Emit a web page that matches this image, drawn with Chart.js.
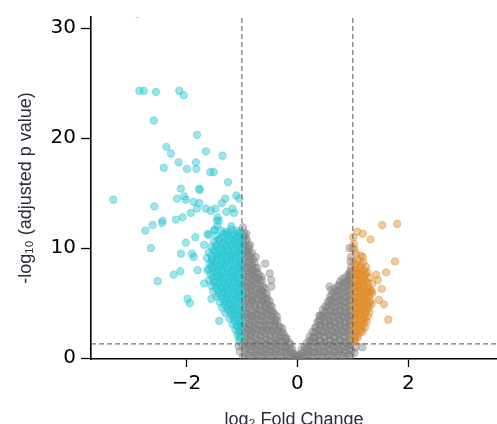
<!DOCTYPE html>
<html>
<head>
<meta charset="utf-8">
<script src="https://cdn.jsdelivr.net/npm/chart.js@4/dist/chart.umd.min.js"></script>
<style>
html,body{margin:0;padding:0;background:#fff;overflow:hidden;}
canvas{display:block;}
</style>
</head>
<body>
<canvas id="c" width="497" height="431"></canvas>
<script>
// ---- axis settings / tick labels ----
const xTickValues = [-2, 0, 2];
const yTickValues = [0, 10, 20, 30];
const xRange = [-3.72, 3.6];
const yRange = [-0.07, 31];
const foldThreshold = 1;          // |log2 FC| cut-off
const pThreshold = 1.301;          // -log10(0.05)

// ---- not significant genes (gray) [log2FC, -log10 padj] ----
const grayPoints = [
[-0.98,0.15],[-0.95,0.6],[-0.99,1.1],[-0.96,1.5],[-0.94,2.0],[-0.98,2.5],[-0.95,2.9],[-0.97,3.4],[-0.99,3.9],[-0.94,4.3],[-0.97,4.8],[-0.95,5.3],[-0.98,5.7],[-0.96,6.2],[-0.99,6.7],[-0.94,7.1],[-0.97,7.6],[-0.95,8.1],[-0.98,8.5],[-0.96,9.0],[-0.99,9.5],[-0.95,9.9],[-0.97,10.4],[-0.98,10.9],[-0.96,11.4],[-0.98,11.9],
[-0.89,0.3],[-0.86,0.8],[-0.9,1.2],[-0.87,1.7],[-0.85,2.2],[-0.89,2.6],[-0.88,3.1],[-0.86,3.6],[-0.9,4.0],[-0.87,4.5],[-0.85,5.0],[-0.89,5.4],[-0.88,5.9],[-0.86,6.4],[-0.9,6.8],[-0.87,7.3],[-0.85,7.8],[-0.89,8.2],[-0.88,8.7],[-0.86,9.2],[-0.9,9.7],[-0.88,10.2],[-0.91,10.8],
[-0.8,0.1],[-0.77,0.5],[-0.81,1.0],[-0.78,1.4],[-0.76,1.9],[-0.8,2.4],[-0.79,2.8],[-0.77,3.3],[-0.81,3.8],[-0.78,4.2],[-0.76,4.7],[-0.8,5.2],[-0.79,5.6],[-0.77,6.1],[-0.81,6.6],[-0.78,7.0],[-0.8,7.5],[-0.79,8.0],[-0.81,8.5],[-0.8,9.0],[-0.82,9.6],
[-0.71,0.3],[-0.68,0.7],[-0.72,1.2],[-0.69,1.6],[-0.67,2.1],[-0.71,2.6],[-0.7,3.0],[-0.68,3.5],[-0.72,4.0],[-0.69,4.4],[-0.67,4.9],[-0.71,5.4],[-0.7,5.8],[-0.68,6.3],[-0.72,6.8],[-0.71,7.3],[-0.73,7.8],[-0.72,8.2],
[-0.62,0.1],[-0.59,0.5],[-0.63,1.0],[-0.6,1.4],[-0.58,1.9],[-0.62,2.4],[-0.61,2.8],[-0.59,3.3],[-0.63,3.8],[-0.6,4.2],[-0.58,4.7],[-0.62,5.2],[-0.61,5.6],[-0.63,6.1],[-0.62,6.6],[-0.64,7.1],
[-0.53,0.3],[-0.5,0.7],[-0.54,1.2],[-0.51,1.6],[-0.49,2.1],[-0.53,2.6],[-0.52,3.0],[-0.5,3.5],[-0.54,4.0],[-0.51,4.4],[-0.53,4.9],[-0.54,5.4],[-0.55,5.9],
[-0.44,0.1],[-0.41,0.5],[-0.45,1.0],[-0.42,1.4],[-0.4,1.9],[-0.44,2.4],[-0.43,2.8],[-0.41,3.3],[-0.45,3.8],[-0.44,4.2],[-0.46,4.7],
[-0.35,0.3],[-0.32,0.7],[-0.36,1.2],[-0.33,1.6],[-0.31,2.0],[-0.35,2.5],[-0.34,2.9],[-0.36,3.4],[-0.37,3.8],
[-0.26,0.1],[-0.23,0.5],[-0.27,1.0],[-0.24,1.4],[-0.22,1.8],[-0.26,2.3],[-0.27,2.7],
[-0.17,0.2],[-0.14,0.6],[-0.18,1.0],[-0.15,1.4],[-0.19,1.8],
[-0.08,0.1],[-0.05,0.4],[-0.09,0.8],[-0.03,0.1],[0.0,0.05],[0.02,0.15],[-0.01,0.2],
[0.06,0.1],[0.09,0.45],[0.08,0.8],
[0.15,0.1],[0.18,0.5],[0.16,0.9],[0.17,1.4],
[0.24,0.2],[0.27,0.6],[0.23,1.1],[0.26,1.5],[0.28,1.9],[0.27,2.4],
[0.35,0.1],[0.32,0.5],[0.36,1.0],[0.33,1.4],[0.31,1.9],[0.35,2.3],[0.34,2.8],[0.36,3.3],
[0.44,0.3],[0.41,0.7],[0.45,1.2],[0.42,1.6],[0.4,2.1],[0.44,2.5],[0.43,3.0],[0.41,3.4],[0.45,3.9],[0.46,4.4],
[0.53,0.1],[0.5,0.5],[0.54,1.0],[0.51,1.4],[0.49,1.9],[0.53,2.3],[0.52,2.8],[0.5,3.2],[0.54,3.7],[0.51,4.1],[0.53,4.6],[0.55,5.1],
[0.62,0.3],[0.59,0.7],[0.63,1.2],[0.6,1.6],[0.58,2.1],[0.62,2.5],[0.61,3.0],[0.59,3.4],[0.63,3.9],[0.6,4.3],[0.62,4.8],[0.61,5.3],[0.63,5.8],
[0.71,0.1],[0.68,0.5],[0.72,1.0],[0.69,1.4],[0.67,1.9],[0.71,2.3],[0.7,2.8],[0.68,3.2],[0.72,3.7],[0.69,4.1],[0.71,4.6],[0.7,5.1],[0.72,5.6],[0.71,6.1],[0.73,6.6],
[0.8,0.3],[0.77,0.7],[0.81,1.2],[0.78,1.6],[0.76,2.1],[0.8,2.5],[0.79,3.0],[0.77,3.4],[0.81,3.9],[0.78,4.3],[0.8,4.8],[0.79,5.3],[0.81,5.8],[0.8,6.3],[0.82,6.8],[0.81,7.2],
[0.89,0.1],[0.86,0.5],[0.9,1.0],[0.87,1.4],[0.85,1.9],[0.89,2.3],[0.88,2.8],[0.86,3.2],[0.9,3.7],[0.87,4.1],[0.89,4.6],[0.88,5.1],[0.9,5.6],[0.89,6.1],[0.91,6.6],[0.9,7.1],[0.92,7.6],
[0.96,0.3],[0.98,0.7],[0.95,1.2],[0.97,1.6],[0.98,2.1],[0.96,2.5],[0.97,3.0],[0.95,3.4],[0.98,3.9],[0.96,4.3],[0.97,4.8],[0.95,5.3],[0.98,5.8],[0.96,6.3],[0.97,6.8],[0.95,7.3],[0.96,7.8],[0.97,8.3],
[0.94,10.0],[0.99,10.0],[0.97,9.2],[0.96,8.8],[-0.58,8.6],[-0.5,7.7],[-0.47,7.1],[-0.47,6.5],[-0.65,7.4],[0.61,6.2],[0.58,6.5],[0.4,3.9],[-0.92,11.3],[-0.85,10.3],[-0.75,9.2],[1.03,0.5],[-1.04,0.6],[1.05,1.0],[-1.06,1.1],[1.17,1.0],
[-0.93,0.4],[-0.92,0.9],[-0.94,1.35],[-0.91,1.8],[-0.93,2.3],[-0.92,2.75],[-0.94,3.2],[-0.91,3.7],[-0.93,4.1],[-0.92,4.6],[-0.94,5.05],[-0.91,5.5],[-0.93,6.0],[-0.92,6.45],[-0.94,6.9],[-0.91,7.4],[-0.93,7.85],[-0.92,8.3],[-0.94,8.8],[-0.91,9.25],[-0.93,9.7],[-0.94,10.2],[-0.93,10.65],[-0.95,11.1],
[-0.84,0.2],[-0.83,0.65],[-0.85,1.1],[-0.82,1.55],[-0.84,2.0],[-0.83,2.5],[-0.85,2.95],[-0.82,3.4],[-0.84,3.85],[-0.83,4.3],[-0.85,4.8],[-0.82,5.25],[-0.84,5.7],[-0.83,6.15],[-0.85,6.6],[-0.82,7.1],[-0.84,7.55],[-0.83,8.0],[-0.85,8.45],[-0.84,8.95],[-0.86,9.4],[-0.87,9.9],
[-0.75,0.35],[-0.74,0.8],[-0.76,1.25],[-0.73,1.7],[-0.75,2.2],[-0.74,2.65],[-0.76,3.1],[-0.73,3.55],[-0.75,4.0],[-0.74,4.5],[-0.76,4.95],[-0.73,5.4],[-0.75,5.85],[-0.74,6.3],[-0.76,6.8],[-0.75,7.25],[-0.77,7.7],[-0.76,8.2],[-0.78,8.7],
[-0.66,0.2],[-0.65,0.65],[-0.67,1.1],[-0.64,1.55],[-0.66,2.0],[-0.65,2.5],[-0.67,2.95],[-0.64,3.4],[-0.66,3.85],[-0.65,4.3],[-0.67,4.8],[-0.64,5.25],[-0.66,5.7],[-0.65,6.15],[-0.67,6.6],[-0.68,7.1],[-0.69,7.6],
[-0.57,0.35],[-0.56,0.8],[-0.58,1.25],[-0.55,1.7],[-0.57,2.2],[-0.56,2.65],[-0.58,3.1],[-0.55,3.55],[-0.57,4.0],[-0.56,4.5],[-0.58,4.95],[-0.57,5.4],[-0.59,5.9],[-0.6,6.4],
[-0.48,0.2],[-0.47,0.65],[-0.49,1.1],[-0.46,1.55],[-0.48,2.0],[-0.47,2.5],[-0.49,2.95],[-0.46,3.4],[-0.48,3.85],[-0.47,4.3],[-0.49,4.8],[-0.5,5.2],
[-0.39,0.35],[-0.38,0.8],[-0.4,1.25],[-0.37,1.7],[-0.39,2.15],[-0.38,2.6],[-0.4,3.05],[-0.39,3.5],[-0.41,4.0],
[-0.3,0.2],[-0.29,0.6],[-0.31,1.05],[-0.28,1.5],[-0.3,1.95],[-0.29,2.4],[-0.31,2.85],
[-0.21,0.35],[-0.2,0.75],[-0.22,1.2],[-0.21,1.65],[-0.23,2.05],
[-0.12,0.15],[-0.11,0.5],[-0.13,0.9],[-0.12,1.25],
[-0.04,0.25],[0.03,0.3],
[0.11,0.2],[0.12,0.6],[0.13,1.0],
[0.2,0.35],[0.21,0.75],[0.2,1.15],[0.22,1.6],[0.22,1.95],
[0.29,0.15],[0.3,0.55],[0.29,1.0],[0.31,1.45],[0.3,1.9],[0.31,2.35],[0.32,2.8],
[0.38,0.35],[0.39,0.75],[0.38,1.2],[0.4,1.65],[0.39,2.1],[0.38,2.55],[0.4,3.0],[0.39,3.45],[0.41,3.85],
[0.47,0.2],[0.48,0.6],[0.47,1.05],[0.49,1.5],[0.48,1.95],[0.47,2.4],[0.49,2.85],[0.48,3.3],[0.47,3.75],[0.49,4.2],[0.5,4.7],
[0.56,0.35],[0.57,0.75],[0.56,1.2],[0.58,1.65],[0.57,2.1],[0.56,2.55],[0.58,3.0],[0.57,3.45],[0.56,3.9],[0.58,4.35],[0.57,4.8],[0.58,5.25],[0.59,5.6],
[0.65,0.2],[0.66,0.6],[0.65,1.05],[0.67,1.5],[0.66,1.95],[0.65,2.4],[0.67,2.85],[0.66,3.3],[0.65,3.75],[0.67,4.2],[0.66,4.65],[0.65,5.1],[0.67,5.55],[0.66,6.0],[0.68,6.3],
[0.74,0.35],[0.75,0.75],[0.74,1.2],[0.76,1.65],[0.75,2.1],[0.74,2.55],[0.76,3.0],[0.75,3.45],[0.74,3.9],[0.76,4.35],[0.75,4.8],[0.74,5.25],[0.76,5.7],[0.75,6.15],[0.76,6.6],[0.77,6.95],
[0.83,0.2],[0.84,0.6],[0.83,1.05],[0.85,1.5],[0.84,1.95],[0.83,2.4],[0.85,2.85],[0.84,3.3],[0.83,3.75],[0.85,4.2],[0.84,4.65],[0.83,5.1],[0.85,5.55],[0.84,6.0],[0.85,6.45],[0.86,6.9],[0.86,7.35],
[0.92,0.35],[0.93,0.75],[0.92,1.2],[0.94,1.65],[0.93,2.1],[0.92,2.55],[0.94,3.0],[0.93,3.45],[0.92,3.9],[0.94,4.35],[0.93,4.8],[0.92,5.25],[0.94,5.7],[0.93,6.15],[0.94,6.6],[0.93,7.05],[0.94,7.5],[0.95,7.9]
];

// ---- down-regulated genes (cyan) ----
const downPoints = [
[-2.88,31.3],[-2.85,24.3],[-2.77,24.3],[-2.55,24.2],[-2.13,24.3],[-2.05,23.9],[-2.59,21.6],[-1.81,20.3],[-2.36,19.2],[-2.28,18.6],[-1.65,18.8],[-1.35,18.4],
[-2.14,17.8],[-1.83,17.8],[-2.41,17.3],[-1.99,17.2],[-1.82,17.2],[-1.57,16.9],[-1.51,16.9],[-1.25,16.0],[-2.10,15.4],[-1.77,15.4],[-1.76,15.3],
[-3.32,14.4],[-2.58,13.8],[-2.17,14.5],[-2.04,14.7],[-2.01,14.4],[-1.87,14.2],[-1.77,14.1],[-1.30,14.5],[-1.36,14.1],[-1.10,14.8],[-1.05,14.5],
[-1.81,13.6],[-1.65,13.6],[-1.48,13.6],[-1.56,13.4],[-1.28,13.3],[-1.17,13.6],[-1.14,13.2],[-2.43,12.5],[-2.19,12.6],[-2.07,12.8],[-1.92,13.2],[-1.44,12.8],
[-2.74,11.6],[-2.61,12.1],[-2.44,12.3],[-2.64,10.0],[-2.52,7.0],[-2.23,7.6],[-2.11,7.9],[-2.10,9.5],[-2.01,10.5],[-1.90,9.5],[-1.87,9.2],[-1.84,11.0],[-1.80,8.0],
[-1.98,5.4],[-1.94,5.0],[-1.60,11.2],[-1.49,11.7],[-1.45,12.5],[-1.68,10.3],[-1.41,3.4],[-1.68,6.8],[-1.62,8.0],[-1.55,5.4],[-1.62,11.3],[-1.50,11.6],[-1.44,12.0],[-1.41,12.5],[-1.19,12.0],
[-1.38,11.6],[-1.28,11.5],[-1.19,11.7],[-1.1,11.6],[-1.03,11.5],
[-1.46,11.1],[-1.36,11.0],[-1.27,11.2],[-1.18,11.1],[-1.09,11.0],[-1.02,11.2],
[-1.5,10.6],[-1.41,10.7],[-1.32,10.5],[-1.24,10.6],[-1.15,10.7],[-1.07,10.5],[-1.01,10.6],
[-1.55,10.1],[-1.46,10.2],[-1.37,10.0],[-1.29,10.1],[-1.2,10.2],[-1.12,10.0],[-1.04,10.1],
[-1.6,9.6],[-1.5,9.7],[-1.42,9.5],[-1.33,9.6],[-1.25,9.7],[-1.17,9.5],[-1.09,9.6],[-1.02,9.7],
[-1.63,9.1],[-1.54,9.0],[-1.45,9.2],[-1.37,9.1],[-1.28,9.0],[-1.2,9.2],[-1.12,9.1],[-1.04,9.0],
[-1.58,8.6],[-1.49,8.7],[-1.4,8.5],[-1.32,8.6],[-1.23,8.7],[-1.15,8.5],[-1.07,8.6],[-1.01,8.7],
[-1.6,8.1],[-1.52,8.2],[-1.43,8.0],[-1.35,8.1],[-1.27,8.2],[-1.18,8.0],[-1.1,8.1],[-1.03,8.2],
[-1.56,7.6],[-1.47,7.7],[-1.38,7.5],[-1.3,7.6],[-1.21,7.7],[-1.13,7.5],[-1.05,7.6],
[-1.59,7.1],[-1.5,7.0],[-1.41,7.2],[-1.33,7.1],[-1.24,7.0],[-1.16,7.2],[-1.08,7.1],[-1.01,7.0],
[-1.55,6.6],[-1.45,6.7],[-1.36,6.5],[-1.28,6.6],[-1.19,6.7],[-1.11,6.5],[-1.03,6.6],
[-1.52,6.1],[-1.42,6.2],[-1.33,6.0],[-1.25,6.1],[-1.16,6.2],[-1.08,6.0],[-1.01,6.1],
[-1.46,5.6],[-1.38,5.7],[-1.29,5.5],[-1.21,5.6],[-1.12,5.7],[-1.04,5.5],
[-1.4,5.1],[-1.31,5.2],[-1.23,5.0],[-1.14,5.1],[-1.06,5.2],
[-1.36,4.6],[-1.27,4.7],[-1.18,4.5],[-1.1,4.6],[-1.02,4.7],
[-1.3,4.1],[-1.21,4.2],[-1.13,4.0],[-1.05,4.1],
[-1.22,3.6],[-1.14,3.7],[-1.06,3.5],
[-1.17,3.1],[-1.09,3.0],[-1.02,3.2],
[-1.12,2.6],[-1.04,2.5],
[-1.08,2.1],[-1.02,2.0],
[-1.05,1.6],
[-1.33,11.35],[-1.24,11.4],[-1.14,11.3],[-1.06,11.35],
[-1.41,10.85],[-1.31,10.9],[-1.22,10.8],[-1.13,10.85],[-1.05,10.9],
[-1.46,10.35],[-1.37,10.4],[-1.28,10.3],[-1.19,10.35],[-1.11,10.4],[-1.03,10.3],
[-1.5,9.85],[-1.41,9.9],[-1.33,9.8],[-1.24,9.85],[-1.16,9.9],[-1.07,9.8],[-1.01,9.9],
[-1.55,9.35],[-1.46,9.4],[-1.37,9.3],[-1.29,9.35],[-1.21,9.4],[-1.13,9.3],[-1.05,9.35],
[-1.54,8.85],[-1.45,8.9],[-1.36,8.8],[-1.27,8.85],[-1.19,8.9],[-1.11,8.8],[-1.03,8.85],
[-1.55,8.35],[-1.47,8.4],[-1.38,8.3],[-1.3,8.35],[-1.21,8.4],[-1.13,8.3],[-1.05,8.35],
[-1.52,7.85],[-1.43,7.9],[-1.34,7.8],[-1.25,7.85],[-1.17,7.9],[-1.08,7.8],[-1.01,7.85],
[-1.53,7.35],[-1.45,7.4],[-1.36,7.3],[-1.28,7.35],[-1.2,7.4],[-1.12,7.3],[-1.04,7.35],
[-1.5,6.85],[-1.41,6.9],[-1.32,6.8],[-1.24,6.85],[-1.15,6.9],[-1.07,6.8],
[-1.47,6.35],[-1.38,6.4],[-1.29,6.3],[-1.2,6.35],[-1.12,6.4],[-1.04,6.3],
[-1.42,5.85],[-1.33,5.9],[-1.25,5.8],[-1.16,5.85],[-1.08,5.9],[-1.01,5.8],
[-1.35,5.35],[-1.26,5.4],[-1.18,5.3],[-1.1,5.35],[-1.02,5.4],
[-1.31,4.85],[-1.22,4.9],[-1.14,4.8],[-1.06,4.85],
[-1.25,4.35],[-1.17,4.4],[-1.09,4.3],[-1.01,4.35],
[-1.18,3.85],[-1.1,3.9],[-1.02,3.8],
[-1.13,3.35],[-1.05,3.4],
[-1.08,2.85],[-1.01,2.9],
[-1.06,2.35],[-1.04,1.85]
];

// ---- up-regulated genes (orange) ----
const upPoints = [
[1.53,12.1],[1.80,12.2],[1.08,11.5],[1.18,11.3],[1.32,10.8],[1.76,8.8],[1.14,9.3],[1.18,9.2],[1.06,9.5],
[1.42,7.6],[1.45,7.1],[1.60,7.8],[1.52,6.3],[1.34,6.1],[1.47,5.3],[1.56,4.9],[1.64,3.5],[1.26,6.9],[1.31,6.2],[1.24,8.3],
[1.01,11.0],[1.02,10.4],[1.03,9.9],
[1.02,8.8],[1.1,8.9],[1.19,8.7],
[1.04,8.3],[1.13,8.2],
[1.01,7.8],[1.09,7.7],[1.17,7.9],[1.26,7.8],
[1.03,7.3],[1.11,7.2],[1.2,7.4],[1.3,7.3],
[1.02,6.8],[1.1,6.7],[1.18,6.9],[1.35,6.8],
[1.01,6.3],[1.08,6.4],[1.16,6.2],[1.24,6.3],
[1.03,5.8],[1.11,5.9],[1.19,5.7],[1.27,5.8],[1.35,5.9],
[1.01,5.3],[1.09,5.2],[1.17,5.4],[1.25,5.3],[1.32,5.2],
[1.02,4.8],[1.1,4.9],[1.18,4.7],[1.26,4.8],[1.34,4.9],
[1.01,4.3],[1.08,4.2],[1.16,4.4],[1.24,4.3],[1.3,4.2],
[1.03,3.8],[1.11,3.9],[1.19,3.7],[1.27,3.8],
[1.02,3.3],[1.1,3.2],[1.18,3.4],[1.25,3.3],
[1.01,2.8],[1.08,2.9],[1.16,2.7],[1.22,2.8],
[1.03,2.3],[1.1,2.2],[1.17,2.4],
[1.02,1.8],[1.09,1.9],
[1.04,1.5],
[1.06,8.55],[1.15,8.5],[1.05,8.05],[1.13,7.95],[1.21,8.0],[1.07,7.55],[1.15,7.5],[1.23,7.6],[1.06,7.05],[1.14,7.0],[1.22,7.1],
[1.05,6.55],[1.12,6.5],[1.2,6.6],[1.28,6.55],[1.07,6.05],[1.15,6.0],[1.23,6.1],[1.31,6.0],[1.05,5.55],[1.13,5.6],[1.21,5.5],[1.29,5.6],
[1.06,5.05],[1.14,5.0],[1.22,5.1],[1.3,5.0],[1.05,4.55],[1.12,4.6],[1.2,4.5],[1.28,4.55],[1.06,4.05],[1.14,4.0],[1.22,4.1],
[1.05,3.55],[1.14,3.5],[1.22,3.6],[1.06,3.05],[1.13,3.0],[1.2,3.1],[1.05,2.55],[1.13,2.5],[1.06,2.05],[1.04,1.65]
];

const toXY = arr => arr.map(p => ({x: p[0], y: p[1]}));

const pointStyle = (rgb, a) => ({
  backgroundColor: `rgba(${rgb},${a})`,
  borderColor: `rgba(${rgb},${a})`,
  borderWidth: 1.1,
  pointRadius: 3.6,
  pointHoverRadius: 3.6,
  showLine: false
});

const lineStyle = {
  showLine: true,
  borderColor: 'rgba(100,100,100,0.9)',
  borderWidth: 1.2,
  borderDash: [5, 3],
  pointRadius: 0,
  fill: false,
  order: 0
};

new Chart(document.getElementById('c'), {
  type: 'scatter',
  data: {
    datasets: [
      Object.assign({label: 'fc-', data: [{x: -foldThreshold, y: yRange[0]}, {x: -foldThreshold, y: yRange[1]}]}, lineStyle),
      Object.assign({label: 'fc+', data: [{x: foldThreshold, y: yRange[0]}, {x: foldThreshold, y: yRange[1]}]}, lineStyle),
      Object.assign({label: 'p', data: [{x: xRange[0], y: pThreshold}, {x: xRange[1], y: pThreshold}]}, lineStyle),
      Object.assign({label: 'up', data: toXY(upPoints), order: 1}, pointStyle('222,140,42', 0.45)),
      Object.assign({label: 'down', data: toXY(downPoints), order: 2}, pointStyle('40,198,210', 0.45)),
      Object.assign({label: 'ns', data: toXY(grayPoints), order: 3}, pointStyle('128,128,128', 0.42))
    ]
  },
  options: {
    responsive: false,
    animation: false,
    events: [],
    layout: {autoPadding: false, padding: {left: 0, right: 0, top: 15, bottom: 0}},
    plugins: {legend: {display: false}, tooltip: {enabled: false}},
    scales: {
      x: {
        type: 'linear',
        min: xRange[0], max: xRange[1],
        afterBuildTicks: s => { s.ticks = xTickValues.map(v => ({value: v})); },
        grid: {drawOnChartArea: false, drawTicks: true, tickLength: 8, tickColor: '#000', tickWidth: 1.3},
        border: {display: true, color: '#000', width: 1.6},
        ticks: {
          font: {family: 'DejaVu Sans', size: 20}, color: '#000', padding: 5,
          callback: v => (v < 0 ? '\u2212' + Math.abs(v) : String(v))
        },
        title: {display: true, text: 'log\u2082 Fold Change', color: '#2b2b3a',
          font: {family: 'Liberation Sans', size: 18}, padding: {top: 8.4, bottom: 0}}
      },
      y: {
        type: 'linear',
        min: yRange[0], max: yRange[1],
        afterBuildTicks: s => { s.ticks = yTickValues.map(v => ({value: v})); },
        grid: {drawOnChartArea: false, drawTicks: true, tickLength: 10, tickColor: '#000', tickWidth: 1.3},
        border: {display: true, color: '#000', width: 1.6},
        ticks: {font: {family: 'DejaVu Sans', size: 20}, color: '#000', padding: 5},
        title: {display: true, text: '-log\u2081\u2080 (adjusted p value)', color: '#2b2b3a',
          font: {family: 'Liberation Sans', size: 18}, padding: {top: 15, bottom: 9}}
      }
    }
  }
});
</script>
</body>
</html>
